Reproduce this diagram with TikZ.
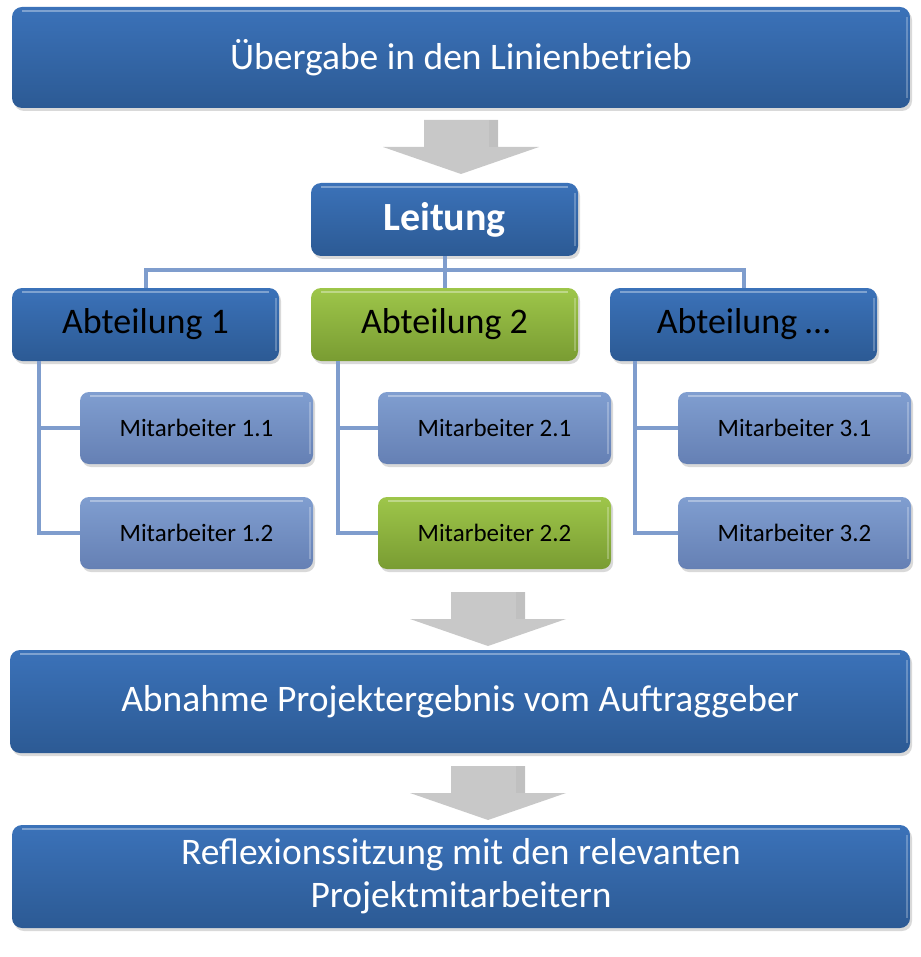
\documentclass[tikz,border=0pt]{standalone}
\usepackage{fontspec}
\setmainfont{Carlito}
\usetikzlibrary{shadows}

\definecolor{boxtop}{RGB}{59,114,185}
\definecolor{boxbot}{RGB}{44,90,148}
\definecolor{stafftop}{RGB}{128,158,208}
\definecolor{staffbot}{RGB}{101,128,180}
\definecolor{greentop}{RGB}{158,198,74}
\definecolor{greenbot}{RGB}{121,156,50}
\definecolor{linkcol}{RGB}{127,157,205}
\definecolor{arrowgray}{RGB}{200,200,200}

\newcommand\grayarrow[2]{% center x, top y
  \fill[arrowgray] (#1-37,#2) -- (#1+37,#2) -- (#1+37,#2+27) -- (#1+78,#2+27)
    -- (#1,#2+54) -- (#1-78,#2+27) -- (#1-37,#2+27) -- cycle;
  \fill[black!30,opacity=.35] (#1+28,#2) -- (#1+37,#2) -- (#1+37,#2+27) -- (#1+28,#2+27) -- cycle;
}

\begin{document}
\begin{tikzpicture}
  [x=1pt,y=-1pt,
   glossy/.style={rounded corners=10pt,
     drop shadow={shadow xshift=2pt,shadow yshift=-3pt,opacity=.3},
     path picture={\draw[white,opacity=.35,line width=2.5pt]
       ([xshift=10pt,yshift=-4pt]path picture bounding box.north west) --
       ([xshift=-10pt,yshift=-4pt]path picture bounding box.north east);
       \draw[white,opacity=.25,line width=2pt]
       ([xshift=-3pt,yshift=-10pt]path picture bounding box.north east) --
       ([xshift=-3pt,yshift=10pt]path picture bounding box.south east);}},
   bigbox/.style={glossy,top color=boxtop,bottom color=boxbot,text=white,
     minimum width=898pt,minimum height=101pt,align=center,
     font=\fontsize{37.5}{43}\selectfont},
   headbox/.style={glossy,top color=boxtop,bottom color=boxbot,text=white,
     minimum width=267pt,minimum height=73pt,font=\fontsize{40}{46}\selectfont\bfseries},
   deptbox/.style={glossy,top color=boxtop,bottom color=boxbot,text=black,
     minimum width=267pt,minimum height=73pt,font=\fontsize{36}{42}\selectfont},
   staffbox/.style={glossy,rounded corners=9pt,top color=stafftop,bottom color=staffbot,text=black,
     minimum width=233pt,minimum height=72pt,font=\fontsize{25}{29}\selectfont},
   green/.style={top color=greentop,bottom color=greenbot},
   link/.style={draw=linkcol,line width=4pt}]

  \useasboundingbox (0,0) rectangle (920,957);

  \coordinate (bus) at (444.5,270);

  \node[bigbox] (top) at (461,57.5) {Übergabe in den Linienbetrieb};
  \grayarrow{461}{120}

  \node[headbox] (lt) at (444.5,219.5) {Leitung};

  % bus between Leitung and the departments
  \draw[link] (lt.south) -- (bus);
  \draw[link] (145.5,288) |- (bus) -| (743.5,288);
  \draw[link] (bus) -- (444.5,288);

  \node[deptbox] (ab1) at (145.5,324.5) {Abteilung 1};
  \node[deptbox,green] (ab2) at (444.5,324.5) {Abteilung 2};
  \node[deptbox] (ab3) at (743.5,324.5) {Abteilung …};

  \node[staffbox] (m11) at (196.5,428) {Mitarbeiter 1.1};
  \node[staffbox] (m12) at (196.5,533) {Mitarbeiter 1.2};
  \node[staffbox] (m21) at (494.5,428) {Mitarbeiter 2.1};
  \node[staffbox,green] (m22) at (494.5,533) {Mitarbeiter 2.2};
  \node[staffbox] (m31) at (794.5,428) {Mitarbeiter 3.1};
  \node[staffbox] (m32) at (794.5,533) {Mitarbeiter 3.2};

  \coordinate (c1) at ([xshift=27pt]ab1.south west);
  \coordinate (c2) at ([xshift=27pt]ab2.south west);
  \coordinate (c3) at ([xshift=25pt]ab3.south west);
  \foreach \c/\a/\b in {c1/m11/m12,c2/m21/m22,c3/m31/m32}{
    \draw[link] (\c) |- (\a.west);
    \draw[link] (\c) |- (\b.west);
  }

  \grayarrow{488}{592}
  \node[bigbox,minimum width=900pt,minimum height=103pt] (abn) at (460,701.5)
    {Abnahme Projektergebnis vom Auftraggeber};
  \grayarrow{488}{766}
  \node[bigbox,minimum height=103pt] (refl) at (461,876.5)
    {Reflexionssitzung mit den relevanten\\Projektmitarbeitern};
\end{tikzpicture}
\end{document}
